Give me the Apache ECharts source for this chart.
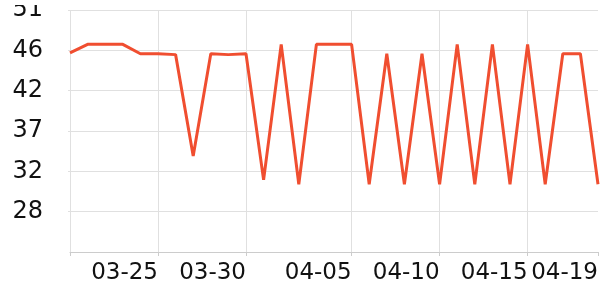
<!DOCTYPE html>
<html>
<head>
<meta charset="utf-8">
<script src="https://cdn.jsdelivr.net/npm/echarts@6/dist/echarts.min.js"></script>
<style>html,body{margin:0;padding:0;background:#fff}#c{width:600px;height:300px}</style>
</head>
<body>
<div id="c"></div>
<script>
const dates = ['03-20','03-21','03-22','03-23','03-24','03-25','03-26','03-27','03-28','03-29','03-30','03-31',
  '04-01','04-02','04-03','04-04','04-05','04-06','04-07','04-08','04-09','04-10','04-11','04-12','04-13',
  '04-14','04-15','04-16','04-17','04-18','04-19'];
const values = [46.1,47.1,47.1,47.1,46.0,46.0,45.9,34.1,46.0,45.9,46.0,31.3,
  47.1,30.8,47.1,47.1,47.1,30.8,46.0,30.8,46.0,30.8,47.1,30.8,47.1,
  30.8,47.1,30.8,46.0,46.0,30.8];
const xLabelDates = ['03-25','03-30','04-05','04-10','04-15','04-19'];
const gridDates = ['03-20','03-25','03-30','04-05','04-10','04-15'];
const yMin = 22.9, yMax = 51.1, yStep = 4.7;

const chart = echarts.init(document.getElementById('c'), null, {renderer: 'canvas'});
chart.setOption({
  animation: false,
  grid: {left: 70, right: 2, top: 10, bottom: 48, containLabel: false, outerBoundsMode: 'none'},
  graphic: [{
    type: 'rect', left: 0, top: 0, z: 100,
    shape: {width: 60, height: 5},
    style: {fill: '#ffffff'}
  }],
  xAxis: {
    type: 'category',
    data: dates,
    boundaryGap: false,
    axisLine: {show: true, lineStyle: {color: '#cccccc', width: 1}},
    axisTick: {show: true, length: 4, lineStyle: {color: '#cccccc'},
      interval: (i, v) => gridDates.includes(v) || xLabelDates.includes(v)},
    splitLine: {show: true, lineStyle: {color: '#e0e0e0', width: 1},
      interval: (i, v) => gridDates.includes(v)},
    axisLabel: {
      interval: (i, v) => xLabelDates.includes(v),
      align: 'right',
      margin: 10,
      fontFamily: 'DejaVu Sans',
      fontSize: 23,
      color: '#111'
    }
  },
  yAxis: {
    type: 'value',
    min: yMin, max: yMax, interval: yStep,
    axisLine: {show: false},
    axisTick: {show: true, length: 2, lineStyle: {color: '#e0e0e0'}},
    splitLine: {show: true, lineStyle: {color: '#e0e0e0', width: 1}},
    axisLabel: {
      showMinLabel: false,
      margin: 27,
      padding: [3, 0, 0, 0],
      fontFamily: 'DejaVu Sans',
      fontSize: 24,
      color: '#111',
      formatter: v => String(Math.round(v))
    }
  },
  series: [{
    type: 'line',
    data: values,
    showSymbol: false,
    symbol: 'none',
    lineStyle: {color: '#F04E30', width: 3},
    itemStyle: {color: '#F04E30'}
  }]
});
</script>
</body>
</html>
